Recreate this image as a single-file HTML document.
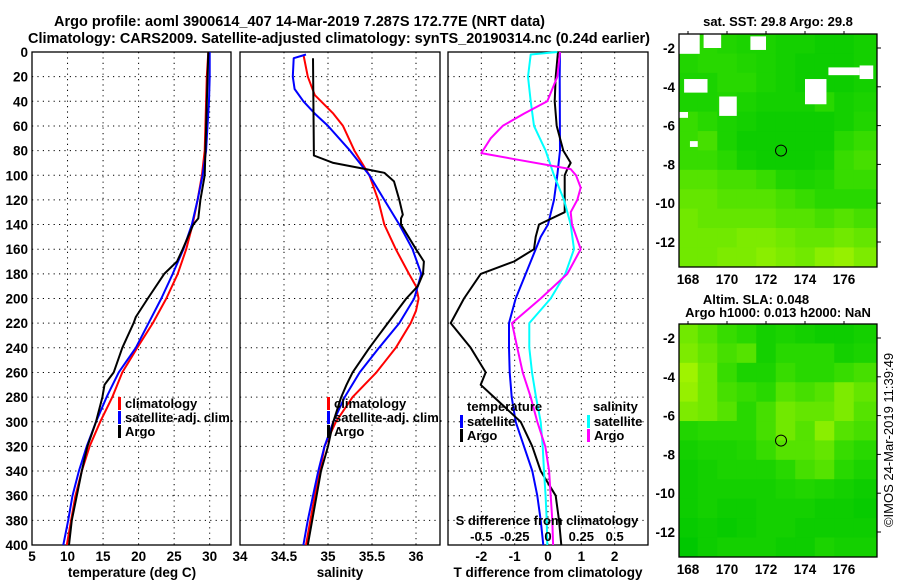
<!DOCTYPE html>
<html><head><meta charset="utf-8"><style>
html,body{margin:0;padding:0;background:#fff}
svg{display:block;font-family:"Liberation Sans",sans-serif}
.t{font-weight:bold;font-size:14.5px}
.k{font-weight:bold;font-size:13.5px}
.l{font-weight:bold;font-size:13px}
</style></head><body>
<svg id="c" width="900" height="580" viewBox="0 0 900 580">
<text class="t" x="54" y="26" textLength="491" lengthAdjust="spacingAndGlyphs">Argo profile: aoml 3900614_407 14-Mar-2019 7.287S 172.77E (NRT data)</text>
<text class="t" x="28" y="43" textLength="622" lengthAdjust="spacingAndGlyphs">Climatology: CARS2009. Satellite-adjusted climatology: synTS_20190314.nc (0.24d earlier)</text>
<text class="l" x="778" y="26" text-anchor="middle">sat. SST: 29.8 Argo: 29.8</text>
<text class="l" x="756" y="304" text-anchor="middle">Altim. SLA: 0.048</text>
<text class="l" x="778" y="317" text-anchor="middle">Argo h1000: 0.013 h2000: NaN</text>
<text x="893" y="440" font-size="13" text-anchor="middle" transform="rotate(-90 893 440)">©IMOS 24-Mar-2019 11:39:49</text>
</svg>
<script>
const depths=[0,20,40,60,80,100,120,140,160,180,200,220,240,260,280,300,320,340,360,380,400];
const tClim=[29.8,29.6,29.5,29.4,29.3,28.9,28.3,27.6,26.7,25.5,23.9,22.0,19.8,17.7,16.3,14.6,13.1,12.0,11.1,10.5,9.9];
const tSat=[30.0,30.0,29.9,29.7,29.5,29.0,28.3,27.5,26.3,24.8,23.2,21.4,19.6,17.2,15.5,14.0,12.7,11.6,10.7,10.1,9.4];
const tArgoD=[0,100,120,135,140,160,170,180,200,215,220,240,260,270,280,300,320,340,360,380,400];
const tArgo=[29.8,29.3,28.7,28.4,27.7,26.2,25.4,23.6,21.3,19.6,19.3,17.7,16.5,15.2,14.9,14.0,12.8,12.0,11.3,10.6,10.2];
const sClimD=[2,20,35,50,60,80,100,120,140,160,180,190,200,210,220,240,260,280,300,320,340,360,380,400];
const sClim=[34.72,34.77,34.85,35.06,35.17,35.30,35.47,35.57,35.64,35.77,35.92,36.0,36.03,36.0,35.94,35.77,35.55,35.28,35.09,34.96,34.91,34.85,34.80,34.75];
const sSatD=[2,5,20,30,40,50,60,80,100,120,140,160,180,200,220,240,260,280,300,320,340,360,380,400];
const sSat=[34.75,34.61,34.60,34.62,34.72,34.85,35.0,35.25,35.47,35.64,35.81,35.96,36.06,35.98,35.81,35.58,35.36,35.19,35.06,34.96,34.89,34.83,34.77,34.72];
const sArgoD=[5,84,90,95,98,105,120,132,135,140,160,170,180,190,200,220,240,260,270,280,300,320,340,360,380,400];
const sArgo=[34.83,34.84,35.06,35.43,35.64,35.75,35.81,35.85,35.83,35.83,36.0,36.09,36.08,36.02,35.89,35.68,35.47,35.28,35.21,35.15,35.06,35.0,34.92,34.87,34.82,34.77];
const dTSatD=[0,20,80,100,120,140,150,160,180,200,220,240,260,280,300,320,340,360,380,400];
const dTSat=[0.36,0.35,0.36,0.28,0.18,0,-0.22,-0.37,-0.67,-0.97,-1.17,-1.17,-1.15,-1.09,-0.97,-0.72,-0.47,-0.32,-0.22,-0.14];
const dTArgoD=[0,20,40,60,80,90,95,100,120,130,140,150,160,170,180,200,220,240,260,270,280,300,320,340,360,380,400];
const dTArgo=[0.3,0.23,0.2,0.26,0.46,0.68,0.58,0.5,0.5,0.5,-0.27,-0.37,-0.42,-1.02,-2.02,-2.52,-2.92,-2.32,-1.87,-2.02,-1.62,-0.82,-0.47,-0.22,0.23,0.33,0.4];
const dSSatD=[0,2,20,40,60,80,100,120,140,160,180,200,220,240,260,280,300,320,340,360,380,400];
const dSSat=[0.07,-0.13,-0.15,-0.13,-0.105,-0.018,0.045,0.12,0.17,0.195,0.13,0.02,-0.14,-0.14,-0.12,-0.09,-0.055,-0.04,-0.03,-0.018,-0.01,-0.005];
const dSArgoD=[0,20,40,50,60,70,82,87,95,100,110,120,130,140,160,180,200,220,240,260,280,300,320,340,360,380,400];
const dSArgo=[0.09,0.07,-0.005,-0.18,-0.34,-0.43,-0.5,-0.25,0.17,0.21,0.245,0.22,0.17,0.18,0.245,0.145,-0.055,-0.27,-0.23,-0.19,-0.13,-0.08,-0.02,0.008,0.02,0.032,0.038];
const depthTicks=[0,20,40,60,80,100,120,140,160,180,200,220,240,260,280,300,320,340,360,380,400];
const tTicks=[5,10,15,20,25,30];
const sTicks=[34,34.5,35,35.5,36];
const dTicks=[-2,-1,0,1,2];
const dSTicks=[-0.5,-0.25,0,0.25,0.5];
const lonTicks=[168,170,172,174,176];
const latTicks=[-2,-4,-6,-8,-10,-12];
const sstGrid=[
[.3,.3,.25,.2,.2,.15,.15,.1,.1,.15],
[.25,.3,.3,.25,.2,.15,.1,.1,.1,.15],
[.2,.2,.3,.3,.2,.15,.1,.1,.1,.15],
[.2,.2,.25,.2,.15,.15,.15,.3,.15,.2],
[.35,.3,.2,.15,.1,.1,.1,.1,.15,.25],
[.35,.4,.2,.1,.1,.1,.1,.1,.3,.35],
[.35,.35,.3,.15,.1,.1,.1,.15,.35,.4],
[.45,.45,.4,.4,.35,.25,.2,.25,.35,.35],
[.5,.5,.45,.45,.45,.4,.35,.3,.3,.3],
[.55,.5,.5,.5,.5,.45,.45,.4,.45,.4],
[.55,.55,.55,.6,.6,.55,.5,.5,.55,.5],
[.55,.55,.6,.6,.65,.6,.55,.65,.7,.6]];
const sstMask=[[167.5,168.6,-1.3,-2.3],[168.8,169.7,-1.3,-2.0],[171.2,172.0,-1.4,-2.1],[175.2,176.8,-3.0,-3.4],[176.8,177.5,-2.9,-3.6],[174.0,175.1,-3.6,-4.9],[167.8,169.0,-3.6,-4.3],[169.6,170.5,-4.5,-5.5],[167.5,168.0,-5.3,-5.6],[168.1,168.5,-6.8,-7.1]];
const slaGrid=[
[.55,.45,.35,.3,.15,.2,.15,.1,.1,.15],
[.6,.5,.4,.45,.15,.3,.3,.3,.15,.2],
[.75,.55,.35,.2,.2,.35,.3,.3,.35,.4],
[.7,.55,.4,.35,.3,.45,.4,.45,.6,.5],
[.6,.55,.45,.3,.4,.55,.5,.5,.6,.45],
[.25,.3,.3,.3,.4,.55,.45,.65,.45,.4],
[.15,.2,.2,.25,.35,.45,.45,.5,.35,.3],
[.1,.15,.2,.2,.2,.3,.4,.45,.3,.2],
[.1,.15,.15,.15,.15,.2,.25,.2,.15,.1],
[.1,.15,.1,.1,.15,.15,.15,.1,.1,.05],
[.05,.1,.05,.1,.15,.15,.1,.1,.1,.1],
[0,.1,.15,.15,.15,.1,.1,.2,.15,.15]];
const argoLon=172.77, argoLat=-7.287;

const NS='http://www.w3.org/2000/svg';
const svg=document.getElementById('c');
function el(tag,attrs,parent){const e=document.createElementNS(NS,tag);for(const k in attrs)e.setAttribute(k,attrs[k]);(parent||svg).appendChild(e);return e;}
const Y=d=>52+d*1.2325;
function panel(name,x0,x1,vmin,vmax,gridVals){
  const g=el('g',{});
  
  
  const X=v=>x0+(v-vmin)/(vmax-vmin)*(x1-x0);
  depthTicks.forEach(d=>{if(d>0&&d<400){const l=el('line',{x1:x0,x2:x1,y1:Y(d),y2:Y(d),stroke:'#000','stroke-dasharray':'1.2,4.2','stroke-width':1},g);}});
  gridVals.forEach(v=>{const x=X(v);if(x>x0+1&&x<x1-1){const l=el('line',{x1:x,x2:x,y1:Y(0),y2:Y(400),stroke:'#000','stroke-dasharray':'1.2,4.2','stroke-width':1},g);}});
  const r=el('rect',{x:x0,y:Y(0),width:x1-x0,height:Y(400)-Y(0),fill:'none',stroke:'#000','stroke-width':1.3},g);
  
  
  return {g,X};
}
function line(p,ds,vs,color,name,w){
  const pts=ds.map((d,i)=>p.X(vs[i]).toFixed(1)+','+Y(d).toFixed(1)).join(' ');
  const l=el('polyline',{points:pts,fill:'none',stroke:color,'stroke-width':w||2,'stroke-linejoin':'round'},p.g);
  
  
}
function txt(s,x,y,anchor,cls,name,parent){
  const t=el('text',{x:x,y:y,'text-anchor':anchor||'start',class:cls||'k'},parent);
  t.textContent=s;
  
  
  return t;
}
function legend(p,x,y,color,label,name){
  const m=el('rect',{x:x,y:y-10,width:3,height:13,fill:color},p.g);
  
  
  txt(label,x+7,y+1,'start','l',name,p.g);
}
const p1=panel('temperature-panel',32,231,5,33,tTicks);
depthTicks.forEach(d=>txt(String(d),28,Y(d)+5,'end','k','depth-tick-label'));
tTicks.forEach(v=>txt(String(v),p1.X(v),561,'middle','k','temperature-tick-label'));
txt('34',240,561,'middle','k','salinity-tick-label');
txt('temperature (deg C)',132,577,'middle','k','temperature-axis-title');
line(p1,depths,tClim,'#f00','temp-climatology-line');
line(p1,depths,tSat,'#00f','temp-satellite-line');
line(p1,tArgoD,tArgo,'#000','temp-argo-line');
legend(p1,118,407,'#f00','climatology','legend-climatology');
legend(p1,118,421,'#00f','satellite-adj. clim.','legend-satellite-adj');
legend(p1,118,435,'#000','Argo','legend-argo');
const p2=panel('salinity-panel',240,440,34,36.2727,sTicks);
sTicks.slice(1).forEach(v=>txt(String(v),p2.X(v),561,'middle','k','salinity-tick-label'));
txt('salinity',340,577,'middle','k','salinity-axis-title');
line(p2,sClimD,sClim,'#f00','sal-climatology-line');
line(p2,sSatD,sSat,'#00f','sal-satellite-line');
line(p2,sArgoD,sArgo,'#000','sal-argo-line');
legend(p2,327,407,'#f00','climatology','legend-sal-climatology');
legend(p2,327,421,'#00f','satellite-adj. clim.','legend-sal-satellite-adj');
legend(p2,327,435,'#000','Argo','legend-sal-argo');
const p3=panel('difference-panel',448,648,-3,3,dTicks);
const XS=v=>p3.X(v*4);
dTicks.forEach(v=>txt(String(v),p3.X(v),561,'middle','k','t-diff-tick-label'));
txt('T difference from climatology',548,577,'middle','k','t-diff-axis-title');
line(p3,dTSatD,dTSat,'#00f','tdiff-satellite-line');
line(p3,dTArgoD,dTArgo,'#000','tdiff-argo-line');
const p3s={g:p3.g,X:XS};
line(p3s,dSSatD,dSSat,'#0ff','sdiff-satellite-line');
line(p3s,dSArgoD,dSArgo,'#f0f','sdiff-argo-line');
txt('temperature',467,411,'start','l','legend-temperature-heading',p3.g);
legend(p3,460,425,'#00f','satellite','legend-tdiff-satellite');
legend(p3,460,439,'#000','Argo','legend-tdiff-argo');
txt('salinity',593,411,'start','l','legend-salinity-heading',p3.g);
legend(p3,587,425,'#0ff','satellite','legend-sdiff-satellite');
legend(p3,587,439,'#f0f','Argo','legend-sdiff-argo');
txt('S difference from climatology',547,525,'middle','l','s-diff-axis-title',p3.g);
dSTicks.forEach(v=>txt(String(v),XS(v),541,'middle','l','s-diff-tick-label',p3.g));
function colorOf(v){
  const stops=[[0,[0,200,0]],[0.3,[40,216,0]],[0.5,[100,230,0]],[0.7,[150,240,0]],[1,[204,255,0]]];
  for(let i=1;i<stops.length;i++){if(v<=stops[i][0]){const a=stops[i-1],b=stops[i],f=(v-a[0])/(b[0]-a[0]);return 'rgb('+a[1].map((c,j)=>Math.round(c+(b[1][j]-c)*f)).join(',')+')';}}
  return 'rgb(204,255,0)';
}
function map(name,top,grid,mask){
  const x0=679,x1=877,y0=top,y1=top+233;
  const LX=lon=>688+(lon-168)*19.5;
  const LY=lat=>top+14+(-2-lat)*19.4;
  const g=el('g',{});
  
  
  const cp=el('clipPath',{id:name+'-clip'},g);
  el('rect',{x:x0,y:y0,width:x1-x0,height:y1-y0},cp);
  const cg=el('g',{'clip-path':'url(#'+name+'-clip)'},g);
  grid.forEach((row,r)=>row.forEach((v,c)=>{
    const lonA=167.5+c, latA=-1.28-r;
    const xa=LX(lonA), xb=c===row.length-1?x1+2:LX(lonA+1);
    const cell=el('rect',{x:xa,y:LY(latA),width:xb-xa+0.5,height:19.9,fill:colorOf(v)},cg);
    
    
  }));
  (mask||[]).forEach(m=>{
    const w=el('rect',{x:LX(m[0]),y:LY(m[2]),width:LX(m[1])-LX(m[0]),height:LY(m[3])-LY(m[2]),fill:'#fff'},cg);
    
    
  });
  const fr=el('rect',{x:x0,y:y0,width:x1-x0,height:y1-y0,fill:'none',stroke:'#000','stroke-width':1.3},g);
  
  
  const ci=el('circle',{cx:LX(argoLon),cy:LY(argoLat),r:5.5,fill:'none',stroke:'#000','stroke-width':1},g);
  
  
  lonTicks.forEach(v=>{
    el('line',{x1:LX(v),x2:LX(v),y1:y0-3,y2:y0,stroke:'#000'},g);
    txt(String(v),LX(v),y1+17,'middle','k','lon-tick-label',g);
  });
  latTicks.forEach(v=>{
    el('line',{x1:x1,x2:x1+4,y1:LY(v),y2:LY(v),stroke:'#000'},g);
    txt(String(v),675,LY(v)+5,'end','k','lat-tick-label',g);
  });
}
map('sst-map',34,sstGrid,sstMask);
map('sla-map',324,slaGrid,[]);
</script>
</body></html>
